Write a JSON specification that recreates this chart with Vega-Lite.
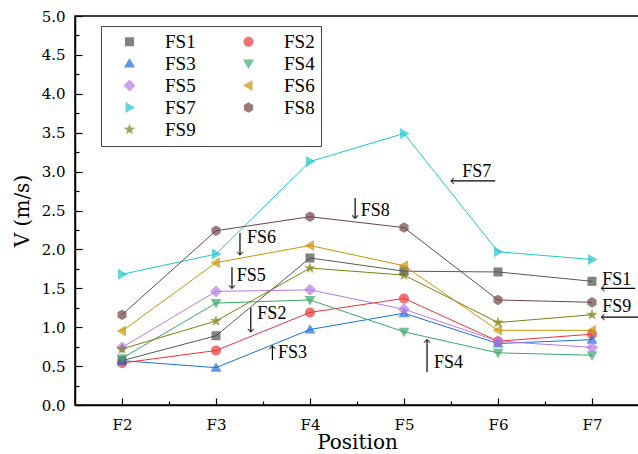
{
  "$schema": "https://vega.github.io/schema/vega-lite/v6.json",
  "width": 564,
  "height": 389,
  "autosize": "none",
  "padding": {"left": 75, "top": 16, "right": 0, "bottom": 49},
  "background": "white",
  "config": {
    "view": {"stroke": "black", "strokeWidth": 1.5},
    "axis": {
      "domainColor": "black", "domainWidth": 1.5, "tickColor": "black", "tickWidth": 1.2,
      "labelFont": "DejaVu Serif", "labelFontSize": 15, "labelColor": "black",
      "titleFont": "DejaVu Serif", "titleFontSize": 20, "titleFontWeight": "normal", "titleColor": "black",
      "grid": false
    }
  },
  "datasets": {
    "main": [
      {"series": "FS1", "pos": 2, "v": 0.57}, {"series": "FS1", "pos": 3, "v": 0.89}, {"series": "FS1", "pos": 4, "v": 1.89}, {"series": "FS1", "pos": 5, "v": 1.72}, {"series": "FS1", "pos": 6, "v": 1.71}, {"series": "FS1", "pos": 7, "v": 1.59},
      {"series": "FS2", "pos": 2, "v": 0.54}, {"series": "FS2", "pos": 3, "v": 0.70}, {"series": "FS2", "pos": 4, "v": 1.19}, {"series": "FS2", "pos": 5, "v": 1.37}, {"series": "FS2", "pos": 6, "v": 0.82}, {"series": "FS2", "pos": 7, "v": 0.91},
      {"series": "FS3", "pos": 2, "v": 0.57}, {"series": "FS3", "pos": 3, "v": 0.48}, {"series": "FS3", "pos": 4, "v": 0.97}, {"series": "FS3", "pos": 5, "v": 1.18}, {"series": "FS3", "pos": 6, "v": 0.79}, {"series": "FS3", "pos": 7, "v": 0.84},
      {"series": "FS4", "pos": 2, "v": 0.60}, {"series": "FS4", "pos": 3, "v": 1.31}, {"series": "FS4", "pos": 4, "v": 1.35}, {"series": "FS4", "pos": 5, "v": 0.94}, {"series": "FS4", "pos": 6, "v": 0.67}, {"series": "FS4", "pos": 7, "v": 0.64},
      {"series": "FS5", "pos": 2, "v": 0.74}, {"series": "FS5", "pos": 3, "v": 1.46}, {"series": "FS5", "pos": 4, "v": 1.48}, {"series": "FS5", "pos": 5, "v": 1.23}, {"series": "FS5", "pos": 6, "v": 0.82}, {"series": "FS5", "pos": 7, "v": 0.74},
      {"series": "FS6", "pos": 2, "v": 0.95}, {"series": "FS6", "pos": 3, "v": 1.83}, {"series": "FS6", "pos": 4, "v": 2.05}, {"series": "FS6", "pos": 5, "v": 1.79}, {"series": "FS6", "pos": 6, "v": 0.96}, {"series": "FS6", "pos": 7, "v": 0.96},
      {"series": "FS7", "pos": 2, "v": 1.68}, {"series": "FS7", "pos": 3, "v": 1.94}, {"series": "FS7", "pos": 4, "v": 3.13}, {"series": "FS7", "pos": 5, "v": 3.49}, {"series": "FS7", "pos": 6, "v": 1.97}, {"series": "FS7", "pos": 7, "v": 1.87},
      {"series": "FS8", "pos": 2, "v": 1.16}, {"series": "FS8", "pos": 3, "v": 2.24}, {"series": "FS8", "pos": 4, "v": 2.42}, {"series": "FS8", "pos": 5, "v": 2.28}, {"series": "FS8", "pos": 6, "v": 1.35}, {"series": "FS8", "pos": 7, "v": 1.32},
      {"series": "FS9", "pos": 2, "v": 0.72}, {"series": "FS9", "pos": 3, "v": 1.08}, {"series": "FS9", "pos": 4, "v": 1.76}, {"series": "FS9", "pos": 5, "v": 1.67}, {"series": "FS9", "pos": 6, "v": 1.06}, {"series": "FS9", "pos": 7, "v": 1.16}
    ],
    "notes": [
      {"label": "FS6", "tx": 3.33, "ty": 2.15, "x1": 3.255, "y1": 2.21, "x2": 3.255, "y2": 1.93, "dir": "down"},
      {"label": "FS5", "tx": 3.22, "ty": 1.66, "x1": 3.17, "y1": 1.77, "x2": 3.17, "y2": 1.50, "dir": "down"},
      {"label": "FS2", "tx": 3.44, "ty": 1.17, "x1": 3.37, "y1": 1.25, "x2": 3.37, "y2": 0.94, "dir": "down"},
      {"label": "FS3", "tx": 3.66, "ty": 0.67, "x1": 3.60, "y1": 0.58, "x2": 3.60, "y2": 0.76, "dir": "up"},
      {"label": "FS8", "tx": 4.54, "ty": 2.49, "x1": 4.48, "y1": 2.66, "x2": 4.48, "y2": 2.40, "dir": "down"},
      {"label": "FS4", "tx": 5.32, "ty": 0.54, "x1": 5.245, "y1": 0.42, "x2": 5.245, "y2": 0.84, "dir": "up"},
      {"label": "FS7", "tx": 5.62, "ty": 2.99, "x1": 5.97, "y1": 2.88, "x2": 5.50, "y2": 2.88, "dir": "left"},
      {"label": "FS1", "tx": 7.11, "ty": 1.61, "x1": 7.46, "y1": 1.50, "x2": 7.10, "y2": 1.50, "dir": "left"},
      {"label": "FS9", "tx": 7.11, "ty": 1.26, "x1": 7.49, "y1": 1.13, "x2": 7.10, "y2": 1.13, "dir": "left"}
    ]
  },
  "resolve": {"axis": {"x": "independent", "y": "independent"}},
  "layer": [
    {
      "data": {"name": "main"},
      "mark": {"type": "line", "strokeWidth": 1},
      "encoding": {
        "x": {
          "field": "pos", "type": "quantitative",
          "scale": {"domain": [1.5, 7.5], "nice": false, "zero": false},
          "axis": {
            "orient": "bottom",
            "title": "Position",
            "values": [2, 3, 4, 5, 6, 7],
            "labelExpr": "'F' + datum.value",
            "tickSize": -7,
            "labelPadding": 19,
            "titleY": 43, "titleBaseline": "alphabetic"
          }
        },
        "y": {
          "field": "v", "type": "quantitative",
          "scale": {"domain": [0, 5], "nice": false},
          "axis": {
            "orient": "left",
            "title": "V (m/s)",
            "values": [0, 0.5, 1, 1.5, 2, 2.5, 3, 3.5, 4, 4.5, 5],
            "format": ".1f",
            "tickSize": -7,
            "labelPadding": 17,
            "titleX": -53, "titleBaseline": "middle"
          }
        },
        "stroke": {
          "field": "series", "type": "nominal",
          "scale": {
            "range": ["#5a5a5a", "#e8363a", "#1e6fd9", "#3aa86b", "#b57be6", "#cc9306", "#1fc6c9", "#6e4444", "#7f7f12"]
          },
          "legend": null
        }
      }
    },
    {
      "data": {"name": "main"},
      "mark": {"type": "point", "filled": true, "size": 100},
      "encoding": {
        "x": {"field": "pos", "type": "quantitative", "axis": null},
        "y": {"field": "v", "type": "quantitative", "axis": null},
        "color": {
          "field": "series", "type": "nominal",
          "scale": {
            "range": ["#4d4d4d", "#e8363a", "#1e6fd9", "#3aa86b", "#b57be6", "#cc9306", "#1fc6c9", "#6e4444", "#7f7f12"]
          },
          "legend": {
            "title": null, "orient": "none", "legendX": 26, "legendY": 10, "columns": 2, "direction": "horizontal",
            "strokeColor": "#444", "padding": 6,
            "labelFont": "Liberation Serif", "labelFontSize": 19,
            "symbolSize": 100, "symbolOffset": 13, "labelOffset": 26,
            "rowPadding": 2, "columnPadding": 30
          }
        },
        "shape": {
          "field": "series", "type": "nominal",
          "scale": {
            "range": [
              "M-0.9,-0.9H0.9V0.9H-0.9Z",
              "M1,0A1,1,0,1,1,-1,0A1,1,0,1,1,1,0Z",
              "M0,-1.1L1.1,0.8L-1.1,0.8Z",
              "M0,1.1L1.1,-0.8L-1.1,-0.8Z",
              "M0,-1.2L1.2,0L0,1.2L-1.2,0Z",
              "M-1.1,0L0.8,-1.1L0.8,1.1Z",
              "M1.1,0L-0.8,-1.1L-0.8,1.1Z",
              "M0,-1.05L0.91,-0.525L0.91,0.525L0,1.05L-0.91,0.525L-0.91,-0.525Z",
              "M0,-1.2L0.282,-0.389L1.141,-0.371L0.456,0.149L0.706,0.971L0,0.48L-0.706,0.971L-0.456,0.149L-1.141,-0.371L-0.282,-0.389Z"
            ]
          },
          "legend": null
        }
      }
    },
    {
      "data": {"name": "notes"},
      "mark": {"type": "rule", "color": "black", "strokeWidth": 1.2},
      "encoding": {
        "x": {"field": "x1", "type": "quantitative",
          "axis": {"orient": "bottom", "values": [2.5, 3.5, 4.5, 5.5, 6.5], "labels": false, "domain": false, "tickSize": -4, "title": null}},
        "x2": {"field": "x2"},
        "y": {"field": "y1", "type": "quantitative",
          "axis": {"orient": "left", "values": [0.25, 0.75, 1.25, 1.75, 2.25, 2.75, 3.25, 3.75, 4.25, 4.75], "labels": false, "domain": false, "tickSize": -4, "title": null}},
        "y2": {"field": "y2"}
      }
    },
    {
      "data": {"name": "notes"},
      "transform": [{"filter": "datum.dir === 'down'"}],
      "mark": {"type": "point", "shape": "M-1,-1L0,0L-1,1", "size": 36, "angle": 90, "filled": false, "stroke": "black", "strokeWidth": 1.2},
      "encoding": {
        "x": {"field": "x2", "type": "quantitative", "axis": null},
        "y": {"field": "y2", "type": "quantitative", "axis": null}
      }
    },
    {
      "data": {"name": "notes"},
      "transform": [{"filter": "datum.dir === 'up'"}],
      "mark": {"type": "point", "shape": "M-1,-1L0,0L-1,1", "size": 36, "angle": 270, "filled": false, "stroke": "black", "strokeWidth": 1.2},
      "encoding": {
        "x": {"field": "x2", "type": "quantitative", "axis": null},
        "y": {"field": "y2", "type": "quantitative", "axis": null}
      }
    },
    {
      "data": {"name": "notes"},
      "transform": [{"filter": "datum.dir === 'left'"}],
      "mark": {"type": "point", "shape": "M-1,-1L0,0L-1,1", "size": 36, "angle": 180, "filled": false, "stroke": "black", "strokeWidth": 1.2},
      "encoding": {
        "x": {"field": "x2", "type": "quantitative", "axis": null},
        "y": {"field": "y2", "type": "quantitative", "axis": null}
      }
    },
    {
      "data": {"name": "notes"},
      "mark": {"type": "text", "font": "Liberation Serif", "fontSize": 18, "align": "left", "baseline": "middle", "color": "black"},
      "encoding": {
        "x": {"field": "tx", "type": "quantitative", "axis": null},
        "y": {"field": "ty", "type": "quantitative", "axis": null},
        "text": {"field": "label"}
      }
    }
  ]
}
